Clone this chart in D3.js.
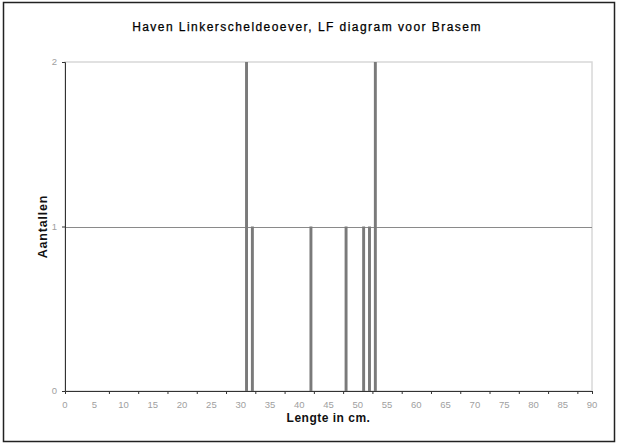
<!DOCTYPE html>
<html>
<head>
<meta charset="utf-8">
<script src="https://cdn.jsdelivr.net/npm/d3@7"></script>
<style>
  body { margin: 0; background: #fff; }
  text { font-family: "Liberation Sans", Arial, sans-serif; }
</style>
</head>
<body>
<div id="chart"></div>
<script>
// lengths (cm) and counts
const lengths = [31, 32, 42, 48, 51, 52, 53];
const counts = [2, 1, 1, 1, 1, 1, 2];
const xTickValues = d3.range(0, 91, 5);
const yTickValues = [0, 1, 2];

const width = 618, height = 446;
const margin = { top: 62, right: 26, bottom: 55, left: 65 };

const svg = d3.select("#chart").append("svg")
  .attr("width", width)
  .attr("height", height);

// outer frame
svg.append("rect")
  .attr("x", 3.5).attr("y", 2.5)
  .attr("width", 611).attr("height", 439)
  .attr("fill", "#fff")
  .attr("stroke", "#222")
  .attr("stroke-width", 1.5);

const x = d3.scaleLinear().domain([0, 90]).range([margin.left, width - margin.right]);
const y = d3.scaleLinear().domain([0, 2]).range([height - margin.bottom, margin.top]);

// plot border (light)
svg.append("rect")
  .attr("x", x(0)).attr("y", y(2))
  .attr("width", x(90) - x(0)).attr("height", y(0) - y(2))
  .attr("fill", "none")
  .attr("stroke", "#d8d8d8")
  .attr("stroke-width", 1.5);

// gridline at 1
svg.append("line")
  .attr("x1", x(0)).attr("x2", x(90))
  .attr("y1", Math.round(y(1)) + 0.5).attr("y2", Math.round(y(1)) + 0.5)
  .attr("stroke", "#8a8a8a");

// bars
const barW = x(0.5) - x(0);
svg.selectAll(".bar")
  .data(lengths.map((l, i) => ({ l, c: counts[i] })))
  .enter()
  .append("rect")
  .attr("class", "bar")
  .attr("x", d => x(d.l) - barW / 2)
  .attr("y", d => y(d.c))
  .attr("width", barW)
  .attr("height", d => y(0) - y(d.c))
  .attr("fill", "#7a7a7a");

// x axis
const xAxis = svg.append("g").attr("transform", `translate(0,${y(0)})`);
xAxis.call(d3.axisBottom(x).tickValues(d3.range(7.5, 90, 5).concat([90])).tickSize(3).tickFormat(""));
xAxis.select(".domain").attr("stroke", "#333");
xAxis.selectAll(".tick line").attr("stroke", "#333");
svg.append("g").selectAll("text")
  .data(xTickValues)
  .enter()
  .append("text")
  .attr("x", d => x(d))
  .attr("y", y(0) + 17)
  .attr("text-anchor", "middle")
  .attr("font-size", 9.5)
  .attr("fill", "#a0a0a0")
  .text(d => d);

// y axis
const yAxis = svg.append("g").attr("transform", `translate(${x(0)},0)`);
yAxis.call(d3.axisLeft(y).tickValues(yTickValues).tickSize(3).tickFormat(""));
yAxis.select(".domain").attr("stroke", "#333");
yAxis.selectAll(".tick line").attr("stroke", "#333");
svg.append("g").selectAll("text")
  .data(yTickValues)
  .enter()
  .append("text")
  .attr("x", x(0) - 8)
  .attr("y", d => y(d) + 3)
  .attr("text-anchor", "end")
  .attr("font-size", 9.5)
  .attr("fill", "#a0a0a0")
  .text(d => d);

// title and axis labels
svg.append("text")
  .attr("x", 307).attr("y", 31)
  .attr("text-anchor", "middle")
  .attr("font-size", 12)
  .attr("letter-spacing", 1.45)
  .attr("fill", "#000")
  .attr("stroke", "#000")
  .attr("stroke-width", 0.25)
  .text("Haven Linkerscheldeoever, LF diagram voor Brasem");

svg.append("text")
  .attr("x", (x(0) + x(90)) / 2).attr("y", 422)
  .attr("text-anchor", "middle")
  .attr("font-size", 12)
  .attr("letter-spacing", 0.5)
  .attr("font-weight", "bold")
  .attr("fill", "#111")
  .text("Lengte in cm.");

svg.append("text")
  .attr("transform", `translate(47,${(y(0) + y(2)) / 2}) rotate(-90)`)
  .attr("text-anchor", "middle")
  .attr("font-size", 12.5)
  .attr("letter-spacing", 0.8)
  .attr("font-weight", "bold")
  .attr("fill", "#111")
  .text("Aantallen");
</script>
</body>
</html>
